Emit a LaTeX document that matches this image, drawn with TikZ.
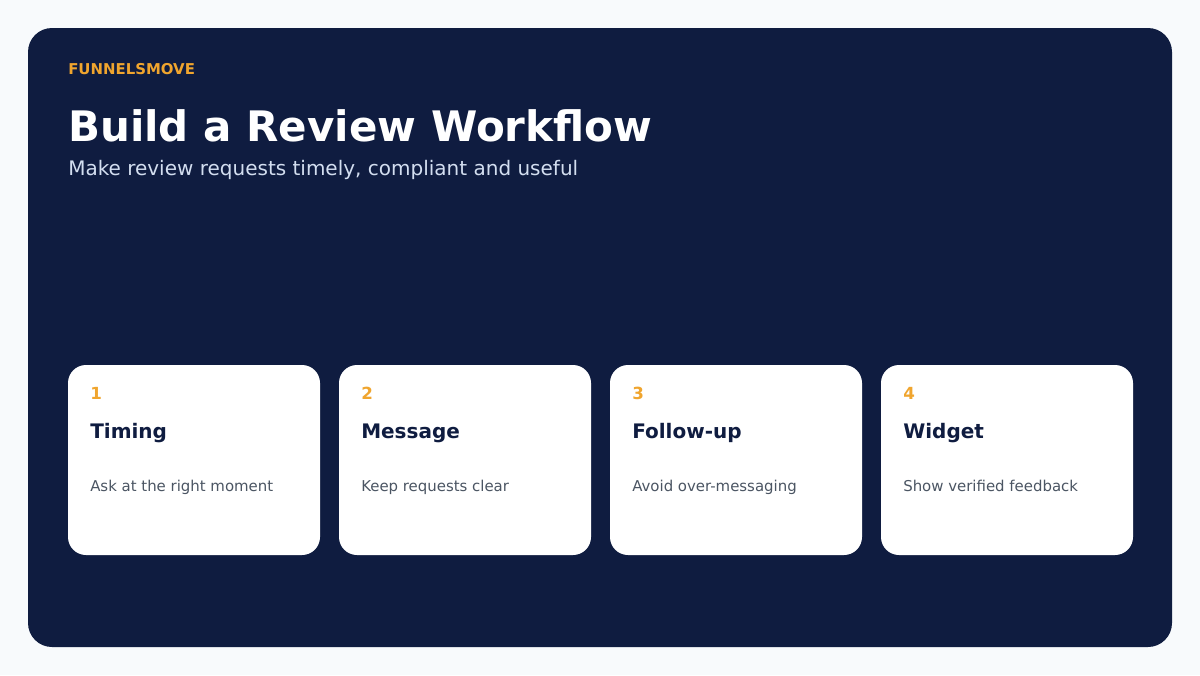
\documentclass[tikz,border=0pt]{standalone}
\usepackage{fontspec}
\setmainfont{DejaVu Sans}
\usetikzlibrary{positioning}
\definecolor{pagebg}{HTML}{F8FAFC}
\definecolor{navy}{HTML}{0F1C40}
\definecolor{amber}{HTML}{F0A52E}
\definecolor{paleblue}{HTML}{D3DEF0}
\definecolor{slate}{HTML}{4B5563}
\tikzset{
  panel/.style={fill=navy, rounded corners=18pt},
  brand/.style={anchor=base west, inner sep=0pt, text=amber, font=\fontsize{11.2}{13}\selectfont\bfseries},
  headline/.style={anchor=base west, inner sep=0pt, text=white, font=\fontsize{31.5}{38}\selectfont\bfseries},
  subline/.style={anchor=base west, inner sep=0pt, text=paleblue, font=\fontsize{15}{18}\selectfont},
  card/.style={fill=white, rounded corners=13.5pt},
  cardnum/.style={anchor=base west, inner sep=0pt, text=amber, font=\fontsize{12.5}{15}\selectfont\bfseries},
  cardhead/.style={anchor=base west, inner sep=0pt, text=navy, font=\fontsize{15}{18}\selectfont\bfseries},
  carddesc/.style={anchor=base west, inner sep=0pt, text=slate, font=\fontsize{11.2}{13}\selectfont}
}

\begin{document}
\begin{tikzpicture}[x=0.75pt,y=-0.75pt]
  \fill[pagebg] (0,0) rectangle (1200,675);
  \fill[panel] (28,28) rectangle (1172,647);
  \node[brand] (brand) at (68,74) {FUNNELSMOVE};
  \node[headline] (title) at (68,141) {Build a Review Workflow};
  \node[subline] (subtitle) at (68,175) {Make review requests timely, compliant and useful};
  % step cards
  \fill[card] (68,365) rectangle (320,555);
  \node[cardnum] (num1) at (90,399) {1};
  \node[cardhead] (head1) at (90,438) {Timing};
  \node[carddesc] (desc1) at (90,491) {Ask at the right moment};
  \fill[card] (339,365) rectangle (591,555);
  \node[cardnum] (num2) at (361,399) {2};
  \node[cardhead] (head2) at (361,438) {Message};
  \node[carddesc] (desc2) at (361,491) {Keep requests clear};
  \fill[card] (610,365) rectangle (862,555);
  \node[cardnum] (num3) at (632,399) {3};
  \node[cardhead] (head3) at (632,438) {Follow-up};
  \node[carddesc] (desc3) at (632,491) {Avoid over-messaging};
  \fill[card] (881,365) rectangle (1133,555);
  \node[cardnum] (num4) at (903,399) {4};
  \node[cardhead] (head4) at (903,438) {Widget};
  \node[carddesc] (desc4) at (903,491) {Show verified feedback};
\end{tikzpicture}
\end{document}
